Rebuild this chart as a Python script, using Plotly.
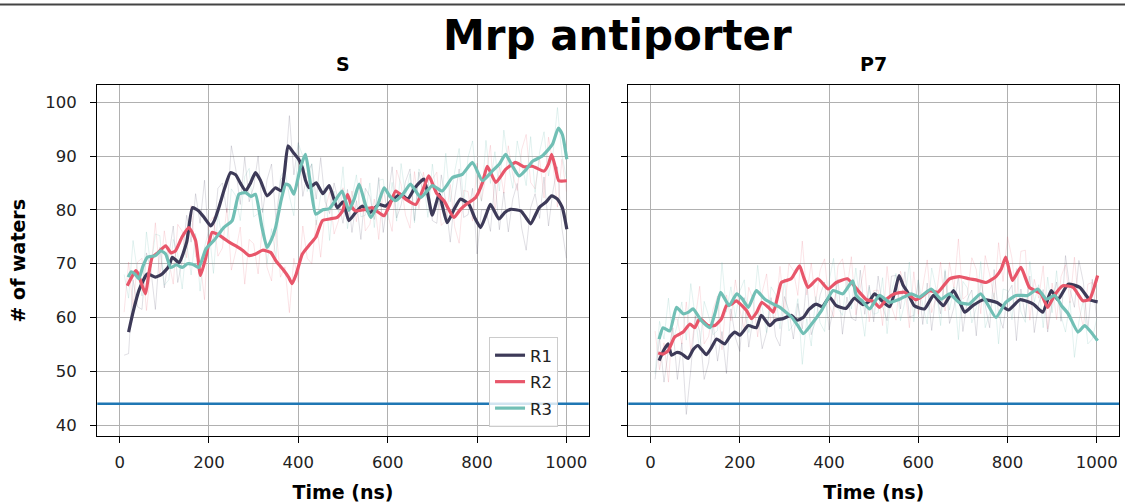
import plotly.graph_objects as go

# ---------------- data ----------------
TIME_RAW = list(range(10, 1001, 10))

# Panel "S" smoothed series (time ns, # waters)
S_R1 = [(20,57.3),(30,61),(43,65),(62,68.1),(80,67.5),(95,68.1),(110,69.5),(118,71.2),(133,70.2),(150,74),
        (163,80.4),(177,79.8),(190,78.5),(204,77),(212,78),(222,80.4),(235,84),(248,86.9),(260,86.5),(270,85),
        (282,83.5),(293,85),(304,86.9),(315,85.5),(330,82.6),(349,84.1),(362,83.5),(369,87),(377,91.9),(390,90.5),
        (400,89.5),(409,87.8),(416,85.5),(424,84.1),(440,85),(455,83),(469,84.5),(487,80.4),(500,81.5),(513,78),
        (528,79.5),(543,80.7),(560,79.5),(580,81),(595,80.7),(612,82),(629,82.9),(645,82),(660,84),(681,85.7),
        (700,79),(715,82.9),(733,77.6),(748,80),(763,82),(782,81),(795,78.5),(808,76.7),(820,79),(830,81),
        (849,78.3),(862,79.5),(875,80.1),(898,79.8),(910,78.5),(920,77.4),(939,80.4),(955,81.5),(967,82.6),(980,82),
        (991,80.4),(1001,76.4)]
S_R2 = [(17,65.9),(27,67.5),(36,68.7),(42,68),(50,66),(58,64.4),(65,68),(73,71.2),(85,72),(103,73.3),
        (115,72),(125,72.4),(140,75),(155,76.7),(170,74.3),(181,67.8),(193,71.2),(207,75.8),(218,75.5),(230,74.9),
        (245,74),(260,73.3),(275,72.5),(290,71.5),(304,71.8),(320,72.5),(338,72.1),(350,70.5),(365,69),(378,67.5),
        (386,66.3),(395,68),(409,71.8),(425,73.5),(439,74.9),(454,78),(470,78.3),(487,78.6),(499,79.8),(510,82.9),
        (520,80.5),(528,79.8),(545,80),(565,80.4),(580,79.5),(592,78.9),(605,81),(618,83.5),(640,82),(663,81),
        (680,84),(692,86.3),(710,83),(726,81.7),(748,78.6),(762,80),(775,81),(797,82.3),(812,85),(823,88.1),
        (842,85.1),(864,87.5),(886,88.8),(905,88),(924,88.1),(950,87.2),(960,88.5),(967,90.3),(975,88),(983,85.4),
        (1001,85.4)]
S_R3 = [(19,67.5),(26,68.5),(35,68),(43,67.2),(52,69.5),(62,71.2),(80,71.5),(92,72.4),(103,71.8),(114,69.3),
        (127,69.8),(140,69.3),(152,70),(163,69.9),(177,69.3),(193,72.7),(211,74.3),(233,76.7),(252,78),(267,82.9),
        (282,83.2),(294,82.5),(304,82.9),(318,77),(330,73),(340,74.5),(349,76.7),(362,82),(372,84.8),(380,84.5),
        (390,82.9),(405,88),(416,90.3),(425,86),(439,79.2),(455,80),(469,80.2),(487,82.3),(498,83.5),(513,79.9),
        (525,82),(536,84.8),(550,81),(562,78.6),(578,81),(592,84.1),(605,82.5),(618,81.7),(635,83),(651,84.8),
        (674,82.3),(700,84.5),(722,83.5),(745,86),(767,86.6),(790,88.8),(812,85.4),(834,87.2),(850,88.5),(864,90.3),
        (880,88),(894,86.3),(910,87.5),(924,89),(946,90),(969,92.2),(982,95.2),(991,94),(1001,89.4)]

# Panel "P7" smoothed series
P_R1 = [(19,52),(30,54),(39,55.1),(47,53),(58,53.5),(69,53.3),(84,52.4),(95,54),(106,54.8),(125,53.1),
        (137,54.5),(148,56),(166,55.1),(178,56.5),(189,57.3),(200,56.7),(219,58.5),(237,58.1),(248,60.4),(267,58.5),
        (280,59.5),(297,59.8),(315,60.4),(328,59.5),(342,60),(355,61.5),(371,62.5),(385,62),(401,63.8),(416,62.2),
        (438,61.7),(457,63.6),(476,62.4),(490,63),(502,64.4),(520,63),(536,62),(548,65),(557,67.8),(566,66),
        (576,64.7),(591,62.2),(614,61.6),(634,64.1),(656,62.2),(679,65),(692,63),(704,61),(722,62.2),(746,63.3),
        (776,62.8),(802,61.4),(828,63.3),(858,62.5),(879,61),(898,65),(913,63.3),(936,66.2),(962,65.6),(984,63.3),
        (1002,62.9)]
P_R2 = [(17,53.4),(28,53.2),(39,53.8),(54,56.4),(73,57.3),(88,58.8),(99,58.1),(110,59.8),(129,58.5),(144,58.5),
        (159,59.8),(170,62.2),(182,62.5),(192,63.1),(215,61.3),(226,59.8),(238,61),(249,62.8),(264,61.9),(275,61),
        (285,64),(293,66.5),(315,67.2),(325,68.5),(334,69.6),(343,67.5),(353,65.6),(375,67.2),(398,65.3),(416,66.5),
        (441,67.2),(465,65),(484,63.3),(500,63),(513,61.9),(530,63.5),(547,64.4),(569,64.7),(595,63.3),(610,64),
        (625,65),(644,64.7),(670,67.2),(692,67.6),(714,67.2),(733,66.9),(752,66.5),(774,67.6),(786,69),(796,71.2),
        (811,66.9),(830,69.3),(849,65.6),(875,64.4),(890,61.9),(905,64.1),(924,65.9),(947,65.6),(969,63.1),(984,63.4),
        (1002,67.8)]
P_R3 = [(19,56),(28,58.1),(43,57.5),(58,61.9),(73,60.7),(85,61),(95,61.6),(114,59.4),(133,58.1),(145,61),
        (157,64.7),(176,62.2),(193,64.4),(205,63.5),(219,61.9),(237,65),(256,63.4),(275,62.5),(290,61.9),(303,61),
        (316,60.1),(330,58.5),(342,57),(361,58.8),(383,61.3),(409,65),(431,64.4),(453,66.8),(461,64.1),(475,63),
        (491,61.6),(513,64.1),(536,62.8),(558,63.4),(584,64.4),(603,63.8),(629,65.3),(651,63.4),(670,64.4),(692,62.8),
        (714,62.5),(740,64.4),(774,60),(796,62.8),(819,64.1),(845,64.1),(868,65.3),(887,63.4),(906,64.1),(921,62.2),
        (936,60.7),(958,57.3),(973,58.5),(990,57),(1002,55.7)]

# Raw (unsmoothed) values, every 10 ns
S_R1_RAW = [53,53.3,67,62,61.5,72,68.8,61.5,73,65.5, 71.5,77,66.5,70.5,79,74,83,77.5,85.5,73.3,
            74.8,84,85,79.5,91.9,87.5,81,89.8,81.5,84.3, 90,79.5,85.6,88.5,78.1,85.6,86.5,97.5,86.5,92.5,
            82.5,86.8,88.5,82,89.7,81.5,79.3,85,81.5,77.5, 83.8,75.8,81.7,74.5,84,82.5,78.2,86,75.8,82,
            88,78.5,80.9,85.3,87.6,78,87,82.6,86,78, 77.5,86.5,81.5,74,82.2,87.6,78.6,79.1,84,71.8,
            80,80,76,85.5,76.3,83.3,75.9,82,84.9,76.6, 72.5,80.4,83,78.4,86.1,77,83.5,88,76.6,71]
S_R2_RAW = [61,70.3,61.9,70.3,71,61.3,69,77.6,67.5,76.1, 70.5,66.2,77.3,76,71.1,80.8,71.3,70.5,63.3,77.6,
            78.7,71.4,72.9,80.3,68.8,72.3,76.8,66.2,74.5,73.7, 68.1,77.5,69.3,66.8,76.5,67.5,69.4,60.9,71,66.5,
            77,71,70,78.1,71.2,80.1,83.3,75.5,78,84.1, 77.9,83.5,77.8,85.9,76.1,77.3,82,74.5,84,79.2,
            76,87.4,84.7,79,76.6,87.1,80.2,87,81.9,85.7, 87,77.1,78,84.7,76.8,73.8,83.6,83.4,77.9,88.7,
            81.7,86.3,92,79.4,88,83.1,91.9,86.5,83.6,91.2, 94,85.1,83.9,89.6,82.2,93.5,88.5,80.5,89.4,83.4]
S_R3_RAW = [68,63.6,74.3,68.4,64,75.9,69.3,75.5,75.2,66, 67,74.5,71.7,65.3,73.9,67.9,75.6,64.9,73.1,76.3,
            68.2,79.3,74.4,74.2,83.9,82.6,78,86.2,87.7,78.7, 79.3,80.3,70,76.5,71.1,86.2,87.3,82.5,78.9,92.3,
            90,83.4,88.6,77.2,82.7,84.1,74.3,83.5,79.5,88, 76.5,82.1,86.5,78.7,79,85,76.7,85.5,85.7,78.1,
            85.1,77.9,88.6,82.5,86.7,77.6,87.6,85.8,78.6,88.5, 82,80.6,90.5,81.5,87.1,91.4,81.1,89.8,92.8,84.3,
            81.6,92.9,84.9,90.8,83.5,94.8,88.4,84,92.8,88.7, 84.5,93.6,83.2,90.7,94.5,86.3,90.4,99,90.2,86]
P_R1_RAW = [48.5,56.2,48,54,58.1,48.5,55.3,42,50.2,60.3, 57.4,48.5,51.6,59,51.9,57.4,49.6,61.6,56.3,53.7,
            63.7,54.5,60.2,61.5,54.2,57.2,63.7,56.5,54.7,63.9, 61.2,56,62.6,57.9,66.9,56.8,59.4,64.2,66.6,57.7,
            61.8,67.1,56.9,63.8,59.9,59.4,68.8,60.6,66,59.2, 67.7,62,59.4,67.7,67.8,61.6,68.5,60.1,60.4,67,
            58.7,66.4,57.6,64.6,60.7,68.6,58.9,61.9,67.7,57.4, 63.4,65.1,56.6,67,62.3,58.1,68.9,60.6,58,64.5,
            66,55.7,65.3,60,67.7,57.2,62.6,65.2,57.3,62.8, 66.6,59.3,71.5,65.2,61.9,70.6,66.6,57.6,67.1,59.9]
P_R2_RAW = [57.5,50.3,55.3,48,59.7,59.7,55.1,62.9,53.7,59.4, 65.8,55.1,56.5,61.5,64,54,64.2,59.4,67,61.5,
            57.7,65.6,63.2,56.4,64.7,68.1,58.4,60.5,69.5,60.7, 70,68.7,64.1,74.2,64.2,70.1,62.9,68.8,70.9,62.5,
            60.1,69.6,70.9,65.2,71.3,60.5,65.6,69.7,59.2,65, 65.1,58.5,69.5,62,59.5,68.6,65.6,58.1,68.5,60.6,
            66,70.7,60.9,63.8,70.3,61.2,70.2,65.4,74.6,63.4, 64.2,71.1,68.9,60.7,71.5,68,63.4,73.9,66.7,75,
            71,63.3,72.3,72.5,59.5,67.1,63.6,69.6,57.9,66.4, 59.6,67.6,69.8,62.7,71.2,62.2,58.1,66.2,66.5,63.6]
P_R3_RAW = [49.5,59.3,56,63.6,55.6,58.7,62.9,55.8,66.3,60, 53.9,63,60.3,56.8,57.6,70.2,61,65.7,60,64.9,
            67,57.2,60.9,69.7,61.9,57.2,65.7,64.3,57.9,67.2, 57.5,58.7,63.5,51.3,59.8,54.7,63.9,59,57.4,66.7,
            71,61.7,60.4,67.5,61.6,69.2,62.2,56.5,65.7,60.6, 60.9,67.4,57,64.9,68.2,59.4,62.9,70.3,59.2,66.9,
            62.3,58.8,69.2,65.3,58.5,68.9,61.4,65.7,55.9,66.7, 65.5,59,61.8,70.4,58.1,60.8,64.6,55.1,65.3,65,
            59.6,69.1,61.1,59.1,70.4,62.9,66.1,58.1,67.5,60.9, 68.7,60.3,57.3,63.1,52.6,59.2,63.3,55.1,56,59.8]

REFERENCE_LEVEL = 44
PANEL_TITLES = ["S", "P7"]
SERIES_NAMES = ["R1", "R2", "R3"]
COLORS = ["#3d3a58", "#e8566a", "#71bfb5"]
RAW_COLORS = ["rgba(61,58,88,0.18)", "rgba(232,86,106,0.18)", "rgba(113,191,181,0.22)"]

# ---------------- figure ----------------
FONT = "DejaVu Sans"
fig = go.Figure()

panels = [
    ("x", "y", [S_R1, S_R2, S_R3], [S_R1_RAW, S_R2_RAW, S_R3_RAW]),
    ("x2", "y2", [P_R1, P_R2, P_R3], [P_R1_RAW, P_R2_RAW, P_R3_RAW]),
]
for pi, (xa, ya, smooth, raw) in enumerate(panels):
    for si in range(3):
        fig.add_trace(go.Scatter(
            x=TIME_RAW, y=raw[si], xaxis=xa, yaxis=ya, mode="lines",
            line=dict(color=RAW_COLORS[si], width=0.9), showlegend=False, hoverinfo="skip"))
    for si in range(3):
        fig.add_trace(go.Scatter(
            x=[p[0] for p in smooth[si]], y=[p[1] for p in smooth[si]],
            xaxis=xa, yaxis=ya, mode="lines", name=SERIES_NAMES[si],
            legendgroup=SERIES_NAMES[si],
            line=dict(color=COLORS[si], width=3.2, shape="spline", smoothing=0.5),
            showlegend=(pi == 0)))

for xa in ["x", "x2"]:
    fig.add_shape(type="line", xref=xa + " domain", yref="y" if xa == "x" else "y2",
                  x0=0, x1=1, y0=REFERENCE_LEVEL, y1=REFERENCE_LEVEL,
                  line=dict(color="#1f77b4", width=2.5), layer="above")

# top rule line
fig.add_shape(type="line", xref="paper", yref="paper", x0=0, x1=1, y0=0.991, y1=0.991,
              line=dict(color="#444444", width=2))

axis_common = dict(
    range=[-50, 1050], tickvals=[0, 200, 400, 600, 800, 1000],
    showgrid=True, gridcolor="#b0b0b0", gridwidth=1.3,
    showline=True, linecolor="black", linewidth=1.3, mirror=True,
    ticks="outside", ticklen=6, tickwidth=1.2, tickcolor="black", ticklabelstandoff=5,
    tickfont=dict(family=FONT, size=16.5, color="#222222"), zeroline=False,
    title=dict(text="Time (ns)", font=dict(family=FONT, size=19, weight="bold", color="black"), standoff=14),
)
yaxis_common = dict(
    range=[38, 103.1], tickvals=[40, 50, 60, 70, 80, 90, 100],
    showgrid=True, gridcolor="#b0b0b0", gridwidth=1.3,
    showline=True, linecolor="black", linewidth=1.3, mirror=True,
    ticks="outside", ticklen=6, tickwidth=1.2, tickcolor="black",
    tickfont=dict(family=FONT, size=16.5, color="#222222"), zeroline=False,
)

fig.update_layout(
    width=1125, height=504,
    margin=dict(l=0, r=0, t=0, b=0),
    paper_bgcolor="white", plot_bgcolor="white",
    font=dict(family=FONT),
    xaxis=dict(domain=[0.0865, 0.5233], anchor="y", **axis_common),
    xaxis2=dict(domain=[0.5585, 0.9947], anchor="y2", **axis_common),
    yaxis=dict(domain=[0.135, 0.8304], anchor="x", ticklabelstandoff=10,
               title=dict(text="# of waters", font=dict(family=FONT, size=19, weight="bold", color="black"), standoff=14),
               **yaxis_common),
    yaxis2=dict(domain=[0.135, 0.8304], anchor="x2", matches="y", showticklabels=False, **yaxis_common),
    legend=dict(x=0.4347, y=0.3314, xanchor="left", yanchor="top",
                bgcolor="rgba(255,255,255,0.8)", bordercolor="#cccccc", borderwidth=1,
                font=dict(family=FONT, size=16.5, color="#222222"), tracegroupgap=2,
                traceorder="grouped"),
    annotations=[
        dict(text="<b>Mrp antiporter</b>", x=0.549, y=1 - 36 / 504, xref="paper", yref="paper",
             xanchor="center", yanchor="middle", showarrow=False,
             font=dict(family=FONT, size=42, color="black")),
        dict(text="<b>" + PANEL_TITLES[0] + "</b>", x=(0.0865 + 0.5233) / 2, y=1 - 64 / 504,
             xref="paper", yref="paper", xanchor="center", yanchor="middle", showarrow=False,
             font=dict(family=FONT, size=19, color="black")),
        dict(text="<b>" + PANEL_TITLES[1] + "</b>", x=(0.5585 + 0.9947) / 2, y=1 - 64 / 504,
             xref="paper", yref="paper", xanchor="center", yanchor="middle", showarrow=False,
             font=dict(family=FONT, size=19, color="black")),
    ],
)

fig.write_html("out.html", config={"displayModeBar": False},
               post_script="document.body.style.margin='0px';document.body.style.overflow='hidden';")
